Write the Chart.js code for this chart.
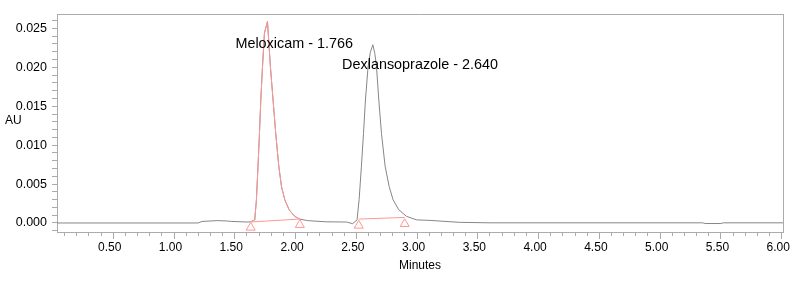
<!DOCTYPE html>
<html>
<head>
<meta charset="utf-8">
<title>Chromatogram</title>
<script src="https://cdn.jsdelivr.net/npm/chart.js@4.4.1/dist/chart.umd.min.js"></script>
<style>
  html, body { margin: 0; padding: 0; background: #fff; }
  canvas { display: block; }
</style>
</head>
<body>
<canvas id="chrom" width="800" height="289"></canvas>
<script>
// detector trace (minutes / AU)
const traceTime = [0.037, 1.20, 1.23, 1.36, 1.44, 1.47, 1.60, 1.631, 1.664, 1.678, 1.691, 1.703, 1.714, 1.728, 1.744, 1.769,
  1.793, 1.815, 1.837, 1.862, 1.884, 1.911, 1.947, 1.993, 2.035, 2.10, 2.25, 2.42, 2.47, 2.506, 2.523, 2.542, 2.559, 2.575,
  2.597, 2.615, 2.636, 2.652, 2.666, 2.685, 2.707, 2.737, 2.770, 2.802, 2.849, 2.913, 2.995, 3.105, 3.351, 3.60,
  5.35, 5.37, 5.50, 5.52, 6.011];
const traceAU = [0, 0, 0.0002, 0.0003, 0.00025, 0.0002, 0.00012, 0.00015, 0.0004, 0.003, 0.0073, 0.0115, 0.0158, 0.0201, 0.0244, 0.0259,
  0.0201, 0.0158, 0.0115, 0.0073, 0.0047, 0.0030, 0.0017, 0.00085, 0.0005, 0.0003, 0.00015, 0.00012, -0.00009, 0.0004, 0.003, 0.0073, 0.0115, 0.0158,
  0.0201, 0.0219, 0.0229, 0.0218, 0.0201, 0.0158, 0.0115, 0.0073, 0.0047, 0.0030, 0.0017, 0.00085, 0.0004, 0.00033, 0.00008, 0.00002,
  0.00002, -0.00007, -0.00007, 0.00002, 0.00002];

// drop baselines of the two integrated peaks
const meloxBaseTime = [1.631, 2.035];
const meloxBaseAU = [0.00013, 0.0005];
const dexBaseTime = [2.52, 2.898];
const dexBaseAU = [0.0005, 0.00071];

// peak start / end markers
const markerTime = [1.631, 2.035, 2.52, 2.898];
const markerAU = [-0.00059, -0.00024, -0.00033, -0.00012];

// peak labels
const peakNames = ['Meloxicam', 'Dexlansoprazole'];
const peakRT = ['1.766', '2.640'];
const labelTime = [1.505, 2.383];
const labelAU = [0.02248, 0.01978];

const FONT = 'Arial, "Liberation Sans", sans-serif';
const GRAY = '#868686';
const PINK = '#ff9696';
const AXIS = '#ababab';

const toXY = (ts, vs) => ts.map((t, i) => ({ x: t, y: vs[i] }));
// the Meloxicam part of the trace is drawn again in pink
const meloxPts = toXY(traceTime, traceAU).filter(p => p.x >= markerTime[0] && p.x <= markerTime[1]);

const isMajorX = v => Math.round(v * 10) % 5 === 0;
const isMajorY = v => Math.abs(Math.round(v * 1000)) % 5 === 0;

const textPlugin = {
  id: 'peakText',
  afterDatasetsDraw(chart) {
    const { ctx, scales: { x, y } } = chart;
    ctx.save();
    ctx.fillStyle = '#000';
    ctx.textAlign = 'left';
    ctx.textBaseline = 'alphabetic';
    ctx.font = '14.4px ' + FONT;
    peakNames.forEach((name, i) => {
      ctx.fillText(name + ' - ' + peakRT[i], x.getPixelForValue(labelTime[i]), y.getPixelForValue(labelAU[i]));
    });
    ctx.font = '12px ' + FONT;
    ctx.textBaseline = 'middle';
    ctx.fillText('AU', 5, 120.5);
    ctx.restore();
  }
};

new Chart(document.getElementById('chrom'), {
  type: 'scatter',
  data: {
    datasets: [
      {
        data: toXY(markerTime, markerAU),
        showLine: false,
        pointStyle: 'triangle',
        pointRadius: 5.2,
        pointBorderWidth: 1,
        pointBorderColor: PINK,
        pointBackgroundColor: '#fff',
        order: 0
      },
      {
        data: meloxPts,
        showLine: true,
        borderColor: PINK,
        borderWidth: 1,
        pointRadius: 0,
        order: 1
      },
      {
        data: toXY(meloxBaseTime, meloxBaseAU),
        showLine: true,
        borderColor: PINK,
        borderWidth: 1,
        pointRadius: 0,
        order: 1
      },
      {
        data: toXY(dexBaseTime, dexBaseAU),
        showLine: true,
        borderColor: PINK,
        borderWidth: 1,
        pointRadius: 0,
        order: 1
      },
      {
        data: toXY(traceTime, traceAU),
        showLine: true,
        borderColor: GRAY,
        borderWidth: 1,
        pointRadius: 0,
        order: 2
      }
    ]
  },
  options: {
    responsive: false,
    animation: false,
    layout: { padding: { top: 14, right: 17, bottom: 0, left: 0 } },
    plugins: {
      legend: { display: false },
      tooltip: { enabled: false }
    },
    scales: {
      x: {
        type: 'linear',
        position: 'bottom',
        min: 0.037,
        max: 6.011,
        afterFit: s => { s.height = 57; },
        border: { color: AXIS, width: 1 },
        grid: {
          drawOnChartArea: false,
          color: AXIS,
          tickLength: 7,
          tickBorderDash: c => (isMajorX(c.tick.value) ? [] : [3, 20])
        },
        ticks: {
          stepSize: 0.1,
          includeBounds: false,
          autoSkip: false,
          maxRotation: 0,
          padding: 1,
          labelOffset: -3.5,
          color: '#000',
          font: { family: FONT, size: 12 },
          callback: v => (isMajorX(v) ? v.toFixed(2) : '')
        },
        title: {
          display: true,
          text: 'Minutes',
          color: '#000',
          font: { family: FONT, size: 12 },
          padding: { top: 0, bottom: 16 }
        }
      },
      y: {
        type: 'linear',
        position: 'left',
        min: -0.00116,
        max: 0.02685,
        afterFit: s => { s.width = 57; },
        border: { color: AXIS, width: 1 },
        grid: {
          drawOnChartArea: false,
          color: AXIS,
          tickLength: 5
        },
        ticks: {
          stepSize: 0.001,
          includeBounds: false,
          autoSkip: false,
          padding: 5,
          color: '#000',
          font: { family: FONT, size: 12.5 },
          callback: v => (isMajorY(v) ? v.toFixed(3) : '')
        }
      },
      xTop: {
        type: 'linear',
        position: 'top',
        min: 0.037,
        max: 6.011,
        afterFit: s => { s.height = 0; },
        border: { color: AXIS, width: 1 },
        grid: { drawOnChartArea: false, drawTicks: false },
        ticks: { display: false }
      },
      yRight: {
        type: 'linear',
        position: 'right',
        min: -0.00116,
        max: 0.02685,
        afterFit: s => { s.width = 0; },
        border: { color: AXIS, width: 1 },
        grid: { drawOnChartArea: false, drawTicks: false },
        ticks: { display: false }
      }
    }
  },
  plugins: [textPlugin]
});
</script>
</body>
</html>
